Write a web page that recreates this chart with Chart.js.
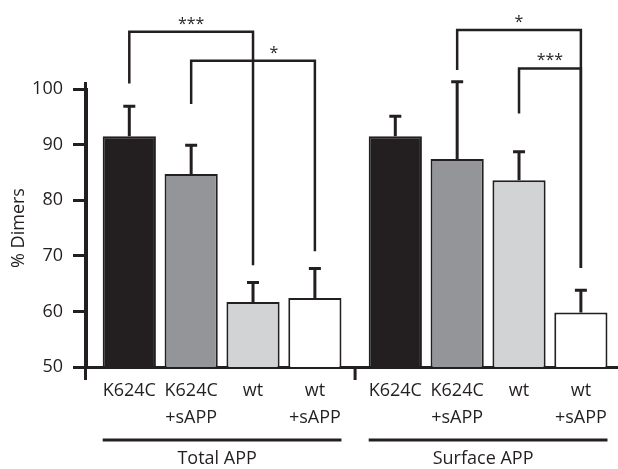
<!DOCTYPE html>
<html>
<head>
<meta charset="utf-8">
<script src="https://cdn.jsdelivr.net/npm/chart.js@4"></script>
<style>
  html, body { margin: 0; padding: 0; background: #fff; }
  #wrap { width: 618px; height: 469px; }
</style>
</head>
<body>
<div id="wrap"><canvas id="c"></canvas></div>
<script>
// values (% dimers, mean and top of error bar)
const barLabels = [['K624C'], ['K624C', '+sAPP'], ['wt'], ['wt', '+sAPP'],
                   ['K624C'], ['K624C', '+sAPP'], ['wt'], ['wt', '+sAPP']];
const dimerMeans = [91.5, 84.7, 61.7, 62.4, 91.5, 87.4, 83.6, 59.8];
const errorTops  = [96.9, 89.9, 65.2, 67.7, 95.1, 101.3, 88.7, 63.8];
const barColors  = ['#231f20', '#939598', '#d1d3d4', '#ffffff', '#231f20', '#939598', '#d1d3d4', '#ffffff'];
const groupNames = ['Total APP', 'Surface APP'];
const yTicks = [50, 60, 70, 80, 90, 100];
// significance brackets: bar indexes, height of each leg end, top line, label
const brFrom  = [0, 1, 5, 6];
const brTo    = [2, 3, 7, 7];
const brFromY = [101.0, 97.3, 103.4, 95.6];
const brToY   = [68.3, 70.8, 67.8, 67.8];
const brTopY  = [110.3, 105.1, 110.6, 103.7];
const brText  = ['***', '*', '*', '***'];

const INK = '#231f20';
const FONT = "'Open Sans', 'Noto Sans', sans-serif";
const GROUP_GAP = 0.3;
const xOf = i => i + (i >= 4 ? GROUP_GAP : 0);

Chart.defaults.font.family = FONT;
Chart.defaults.font.size = 18;
Chart.defaults.color = INK;

const overlay = {
  id: 'overlay',
  afterDatasetsDraw(chart) {
    const ctx = chart.ctx, ys = chart.scales.y;
    const els = chart.getDatasetMeta(0).data;
    ctx.save();
    ctx.strokeStyle = INK; ctx.lineWidth = 3;
    els.forEach((el, i) => {
      const top = ys.getPixelForValue(errorTops[i]);
      ctx.beginPath();
      ctx.moveTo(el.x, el.y); ctx.lineTo(el.x, top);
      ctx.moveTo(el.x - 6, top); ctx.lineTo(el.x + 6, top);
      ctx.stroke();
    });
    ctx.restore();
  },
  afterDraw(chart) {
    const ctx = chart.ctx, ys = chart.scales.y, ca = chart.chartArea;
    const els = chart.getDatasetMeta(0).data;
    ctx.save();
    ctx.strokeStyle = INK; ctx.fillStyle = INK;
    // axis extensions
    ctx.lineWidth = 3;
    ctx.beginPath();
    ctx.moveTo(ca.left - 0.5, ca.top - 7); ctx.lineTo(ca.left - 0.5, ca.bottom + 13);
    const mid = (els[3].x + els[4].x) / 2;
    ctx.moveTo(mid, ca.bottom); ctx.lineTo(mid, ca.bottom + 13);
    ctx.stroke();
    // brackets
    ctx.lineWidth = 2.5;
    ctx.font = '16px ' + FONT;
    ctx.textAlign = 'center'; ctx.textBaseline = 'alphabetic';
    brFrom.forEach((a, k) => {
      const x1 = els[a].x, x2 = els[brTo[k]].x, yt = ys.getPixelForValue(brTopY[k]);
      ctx.beginPath();
      ctx.moveTo(x1, ys.getPixelForValue(brFromY[k]));
      ctx.lineTo(x1, yt); ctx.lineTo(x2, yt);
      ctx.lineTo(x2, ys.getPixelForValue(brToY[k]));
      ctx.stroke();
      let lx = (x1 + x2) / 2;
      if (k === 1) lx += 21;
      ctx.fillText(brText[k], lx, yt - 3);
    });
    // group lines and names
    ctx.lineWidth = 3;
    ctx.font = '18px ' + FONT;
    ctx.textBaseline = 'middle';
    [[0, 3], [4, 7]].forEach((g, k) => {
      const l = els[g[0]].x - els[g[0]].width / 2, r = els[g[1]].x + els[g[1]].width / 2;
      ctx.beginPath(); ctx.moveTo(l, 440); ctx.lineTo(r, 440); ctx.stroke();
      ctx.fillText(groupNames[k], (l + r) / 2 - 5, 459);
    });
    ctx.restore();
  }
};

new Chart(document.getElementById('c'), {
  type: 'bar',
  data: {
    datasets: [{
      data: dimerMeans.map((v, i) => ({ x: xOf(i), y: v })),
      backgroundColor: barColors,
      borderColor: INK,
      borderWidth: 2,
      barPercentage: 1,
      categoryPercentage: 0.86
    }]
  },
  options: {
    responsive: true,
    maintainAspectRatio: false,
    animation: false,
    layout: { padding: { top: 89, right: 0, bottom: 0, left: 0 } },
    plugins: { legend: { display: false }, tooltip: { enabled: false } },
    scales: {
      x: {
        type: 'linear',
        offset: false,
        min: -0.7, max: 7.9,
        grid: { display: false, drawTicks: false, offset: false },
        border: { display: true, color: INK, width: 3 },
        afterBuildTicks: s => { s.ticks = barLabels.map((_, i) => ({ value: xOf(i) })); },
        afterFit: s => { s.height = 102; },
        ticks: {
          autoSkip: false, maxRotation: 0, padding: 10, color: INK,
          font: { family: FONT, size: 18, lineHeight: '27px' },
          callback: (v, i) => barLabels[i]
        }
      },
      y: {
        min: 50, max: 100,
        afterBuildTicks: s => { s.ticks = yTicks.map(v => ({ value: v })); },
        afterFit: s => { s.width = 86; },
        grid: { drawOnChartArea: false, drawTicks: true, tickLength: 13, tickWidth: 3, tickColor: INK, color: INK },
        border: { display: true, color: INK, width: 3 },
        ticks: { padding: 10, color: INK, font: { family: FONT, size: 18 } },
        title: { display: true, text: '% Dimers', color: INK, font: { family: FONT, size: 18 }, padding: { top: 8, bottom: 0 } }
      }
    }
  },
  plugins: [overlay]
});
</script>
</body>
</html>
